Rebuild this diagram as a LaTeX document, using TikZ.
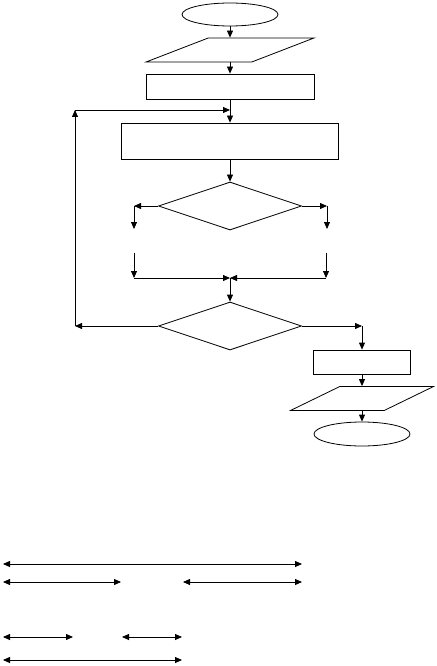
\documentclass[tikz,border=0pt]{standalone}
\usetikzlibrary{arrows.meta,shapes.geometric}

\begin{document}
\begin{tikzpicture}[x=1pt,y=-1pt,>={Triangle[length=7pt,width=6pt]},
			line width=.8pt,
			terminal/.style={draw,ellipse,inner sep=0pt,minimum width=96pt,minimum height=23pt},
			io/.style={draw,trapezium,trapezium left angle=35,trapezium right angle=145,
				trapezium stretches=true,inner sep=1pt,minimum height=24pt},
			procbox/.style={draw,rectangle,inner sep=0pt},
			decision/.style={draw,diamond,aspect=3,inner sep=1pt,minimum width=143pt,minimum height=48pt}]
	\useasboundingbox (0,0) rectangle (436,666);
	% main column
	\node[terminal] (start) at (230,14.5) {};
	\node[io,minimum width=168pt] (in1) at (230,50) {};
	\node[procbox,minimum width=168pt,minimum height=25pt] (proc1) at (230,86.5) {};
	\node[procbox,minimum width=217pt,minimum height=36pt] (proc2) at (230,141) {};
	\node[decision] (dec1) at (230,206) {};
	\node[decision] (dec2) at (230,326) {};
	% right column
	\node[procbox,minimum width=97pt,minimum height=24pt] (proc3) at (362,362) {};
	\node[io,minimum width=143pt,trapezium left angle=42,trapezium right angle=138] (out1) at (362,398.5) {};
	\node[terminal,minimum height=24pt] (stop) at (362,434) {};
	% helper points
	\coordinate (loopB) at (75,326);
	\coordinate (loopT) at (75,110);
	\coordinate (joinT) at (230,110);
	\coordinate (d1L) at (134,206);
	\coordinate (d1Ld) at (134,229);
	\coordinate (d1R) at (327,206);
	\coordinate (d1Rd) at (327,229);
	\coordinate (mL) at (134,253);
	\coordinate (mLd) at (134,278);
	\coordinate (mR) at (326,253);
	\coordinate (mRd) at (326,278);
	\coordinate (joinM) at (230,278);
	\coordinate (d2R) at (362,326);
	\draw[->] (start) -- (in1);
	\draw[->] (in1) -- (proc1);
	\draw[->] (proc1) -- (proc2);
	\draw[->] (proc2) -- (dec1);
	\draw[->] (dec1.west) -- (d1L);
	\draw[->] (d1L) -- (d1Ld);
	\draw[->] (dec1.east) -- (d1R);
	\draw[->] (d1R) -- (d1Rd);
	\draw[->] (mL) -- (mLd);
	\draw[->] (mLd) -- (joinM);
	\draw[->] (mR) -- (mRd);
	\draw[->] (mRd) -- (joinM);
	\draw[->] (joinM) -- (dec2);
	\draw[->] (dec2.west) -- (loopB);
	\draw[->] (loopB) -- (loopT);
	\draw[->] (loopT) -- (joinT);
	\draw[->] (dec2.east) -- (d2R);
	\draw[->] (d2R) -- (proc3);
	\draw[->] (proc3) -- (out1);
	\draw[->] (out1) -- (stop);
	% dimension lines
	\foreach \y/\a/\b in {564/3/302,582/3/121,582/183/302,637/3/73,637/122/182,660/3/182}
		\draw[<->] (\a,\y) -- (\b,\y);
\end{tikzpicture}
\end{document}
